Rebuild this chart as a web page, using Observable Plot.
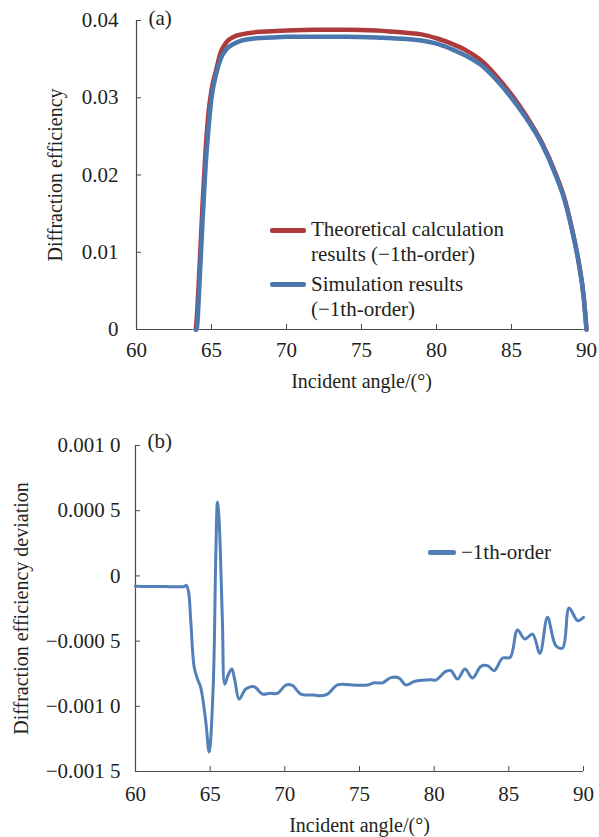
<!DOCTYPE html>
<html><head><meta charset="utf-8">
<script src="https://cdn.jsdelivr.net/npm/d3@7"></script>
<script src="https://cdn.jsdelivr.net/npm/@observablehq/plot@0.6"></script>
<style>
body{margin:0;background:#fff;}
#wrap{position:relative;width:599px;height:837px;font-family:'Liberation Serif',serif;color:#231f20;}
#wrap svg{display:block;}
.leg{position:absolute;font-family:'Liberation Serif',serif;font-size:21px;line-height:25px;white-space:nowrap;}
.sw{position:absolute;height:5px;border-radius:2px;}
</style></head>
<body><div id="wrap"></div>
<script>
// Panel (a): diffraction efficiency vs incident angle
const anglesA = [63.95, 64.0, 64.2, 64.4, 64.6, 64.8, 65.0, 65.3, 65.6, 66.0, 66.5, 67, 68, 69, 70, 72, 74, 76, 78, 79, 80, 81, 82, 83, 84, 85, 86, 87, 88, 88.5, 89, 89.5, 89.8, 90];
const theory = [0, 0.001, 0.008, 0.016, 0.023, 0.028, 0.031, 0.0335, 0.0358, 0.0372, 0.0379, 0.0382, 0.0385, 0.0386, 0.0387, 0.0388, 0.0388, 0.0387, 0.0384, 0.0382, 0.0377, 0.0370, 0.0361, 0.0348, 0.0328, 0.0304, 0.0276, 0.0243, 0.0199, 0.0172, 0.0133, 0.0085, 0.0045, 0];
const simulation = [0, 0, 0.006, 0.014, 0.021, 0.026, 0.030, 0.0330, 0.0350, 0.0363, 0.0370, 0.0374, 0.0377, 0.0378, 0.0379, 0.0379, 0.0379, 0.0378, 0.0376, 0.0374, 0.0370, 0.0363, 0.0354, 0.0342, 0.0323, 0.0300, 0.0273, 0.0241, 0.0197, 0.0170, 0.0132, 0.0084, 0.0044, 0];
const yTicksA = [0, 0.01, 0.02, 0.03, 0.04];
const yTickLabelsA = ["0", "0.01", "0.02", "0.03", "0.04"];

// Panel (b): deviation
const anglesB = [60, 61, 62, 63.0, 63.25, 63.4, 63.55, 63.7, 63.93, 64.15, 64.37, 64.7, 64.93, 65.2, 65.38, 65.49, 65.6, 65.82, 65.98, 66.2, 66.45, 66.65, 66.94, 67.39, 67.95, 68.5, 69.0, 69.51, 70.07, 70.5, 71.07, 71.96, 72.41, 72.86, 73.53, 74.5, 75.54, 75.98, 76.54, 77.1, 77.66, 78.1, 78.66, 79.2, 79.78, 80.11, 80.78, 81.12, 81.57, 82.06, 82.57, 83.13, 83.58, 84.02, 84.58, 85.09, 85.58, 86.07, 86.59, 87.08, 87.59, 88.15, 88.6, 89.04, 89.6, 90];
const deviation = [-0.00008, -0.000081, -0.000082, -0.000083, -0.000082, -0.000072, -0.00012, -0.000343, -0.0007, -0.00079, -0.000856, -0.00111, -0.00135, -0.000856, 0.000169, 0.000565, 0.000425, -0.000343, -0.00083, -0.00076, -0.000714, -0.0008, -0.000945, -0.000868, -0.00085, -0.000906, -0.0009, -0.0009, -0.000837, -0.00084, -0.000906, -0.000914, -0.000919, -0.000907, -0.000835, -0.000837, -0.000837, -0.00082, -0.00082, -0.00078, -0.000784, -0.000837, -0.00081, -0.0008, -0.000797, -0.000799, -0.000733, -0.000727, -0.000791, -0.000714, -0.000783, -0.000694, -0.000689, -0.000727, -0.00063, -0.000625, -0.000415, -0.000484, -0.000446, -0.000594, -0.000318, -0.000535, -0.000553, -0.000246, -0.000343, -0.000318];
const yTicksB = [0.001, 0.0005, 0, -0.0005, -0.001, -0.0015];
const yTickLabelsB = ["0.001 0", "0.000 5", "0", "\u22120.000 5", "\u22120.001 0", "\u22120.001 5"];

const xTicks = [60, 65, 70, 75, 80, 85, 90];
const xLabel = "Incident angle/(\u00b0)";
const red = "#ae3a3c", blue = "#4a77ad", blueB = "#5380b8", ink = "#231f20", axisInk = "#4a4a4a";

const rowsA = anglesA.map((a, i) => ({a, theory: theory[i], simulation: simulation[i]}));
const rowsB = anglesB.map((a, i) => ({a, d: deviation[i]}));

const serif = "Liberation Serif";
const common = {width: 599, style: {fontSize: "20px", color: ink, background: "#fff", overflow: "visible"}};
const ax = {stroke: axisInk, fill: ink, fontFamily: serif, fontSize: 21, fontVariant: "normal", labelAnchor: "center", labelArrow: "none"};

const plotA = Plot.plot({
  ...common,
  height: 410, marginTop: 20, marginBottom: 81, marginLeft: 136, marginRight: 13,
  x: {domain: [60, 90]},
  y: {domain: [0, 0.04]},
  marks: [
    Plot.ruleX([60], {stroke: axisInk, strokeWidth: 1.2}),
    Plot.ruleY([0], {stroke: axisInk, strokeWidth: 1.2}),
    Plot.axisX({...ax, ticks: xTicks, tickSize: -5, tickPadding: 18, label: xLabel, labelOffset: 58}),
    Plot.axisY({...ax, ticks: yTicksA, tickFormat: d => yTickLabelsA[yTicksA.indexOf(d)], tickSize: -5, tickPadding: 23, label: "Diffraction efficiency", labelOffset: 89}),
    Plot.line(rowsA, {x: "a", y: "theory", stroke: "#fff", strokeWidth: 6.5, curve: "monotone-x", strokeOpacity: 0.7}),
    Plot.line(rowsA, {x: "a", y: "theory", stroke: red, strokeWidth: 4.5, curve: "monotone-x"}),
    Plot.line(rowsA, {x: "a", y: "simulation", stroke: blue, strokeWidth: 4.5, curve: "monotone-x"}),
    Plot.text(["(a)"], {frameAnchor: "top-left", dx: 12, dy: -10, fill: ink, fontSize: 21, fontFamily: serif, textAnchor: "start"})
  ]
});

const plotB = Plot.plot({
  ...common,
  height: 427, marginTop: 35, marginBottom: 66, marginLeft: 135, marginRight: 16,
  x: {domain: [60, 90]},
  y: {domain: [-0.0015, 0.001]},
  marks: [
    Plot.ruleX([60], {stroke: axisInk, strokeWidth: 1.2}),
    Plot.ruleY([-0.0015], {stroke: axisInk, strokeWidth: 1.2}),
    Plot.axisX({...ax, ticks: xTicks, tickSize: -5, tickPadding: 20, label: xLabel, labelOffset: 60}),
    Plot.axisY({...ax, ticks: yTicksB, tickFormat: d => yTickLabelsB[yTicksB.indexOf(d)], tickSize: -5, tickPadding: 20, label: "Diffraction efficiency deviation", labelOffset: 122}),
    Plot.line(rowsB, {x: "a", y: "d", stroke: blueB, strokeWidth: 3, curve: "catmull-rom"}),
    Plot.text(["(b)"], {frameAnchor: "top-left", dx: 12, dy: -12, fill: ink, fontSize: 21, fontFamily: serif, textAnchor: "start"})
  ]
});

const wrap = document.getElementById("wrap");
wrap.appendChild(plotA);
wrap.appendChild(plotB);
d3.selectAll("#wrap svg").attr("font-family", serif).style("font-family", "'Liberation Serif', serif");
d3.selectAll("#wrap svg text, #wrap svg g").style("font-family", "'Liberation Serif', serif");
// axis titles a little smaller than tick labels
d3.selectAll("#wrap svg text").filter(function () { return /Incident|Diffraction/.test(this.textContent); }).style("font-size", "20px");

function leg(html, left, top) {
  const d = document.createElement("div"); d.className = "leg"; d.style.left = left + "px"; d.style.top = top + "px"; d.innerHTML = html; wrap.appendChild(d);
}
function sw(color, left, top, w) {
  const d = document.createElement("div"); d.className = "sw"; d.style.background = color; d.style.left = left + "px"; d.style.top = top + "px"; d.style.width = w + "px"; wrap.appendChild(d);
}
sw(red, 270, 228, 36);
leg("Theoretical calculation<br>results (\u22121th-order)", 311, 217);
sw(blue, 270, 282, 36);
leg("Simulation results<br>(\u22121th-order)", 311, 272);
sw(blueB, 428, 550, 28);
leg("\u22121th-order", 461, 540);
</script></body></html>
